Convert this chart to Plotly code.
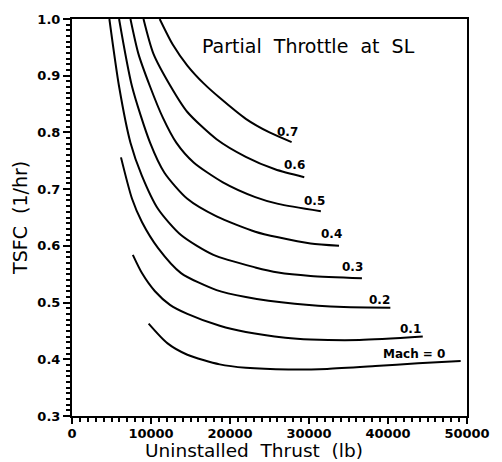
import plotly.graph_objects as go

# Uninstalled thrust (lb) and TSFC (1/hr) for each flight Mach number
mach_labels = ["Mach = 0", "0.1", "0.2", "0.3", "0.4", "0.5", "0.6", "0.7"]

thrust_m00 = [9700, 12100, 14600, 18700, 22000, 27400, 32300, 38400, 43800, 49200]
tsfc_m00 = [0.463, 0.428, 0.408, 0.391, 0.385, 0.382, 0.383, 0.388, 0.393, 0.397]

thrust_m01 = [7700, 8850, 10500, 12400, 14600, 18700, 22000, 27000, 30200, 36400, 44400]
tsfc_m01 = [0.584, 0.552, 0.520, 0.496, 0.480, 0.459, 0.448, 0.438, 0.435, 0.434, 0.440]

thrust_m02 = [6200, 7600, 8850, 10900, 13800, 18300, 22000, 28200, 34400, 40300]
tsfc_m02 = [0.756, 0.683, 0.642, 0.596, 0.552, 0.522, 0.510, 0.498, 0.492, 0.491]

thrust_m03 = [4730, 5960, 7400, 8840, 10900, 13800, 17900, 23200, 26100, 30200, 36700]
tsfc_m03 = [1.0, 0.881, 0.782, 0.724, 0.665, 0.619, 0.584, 0.562, 0.553, 0.547, 0.543]

thrust_m04 = [5960, 7600, 9880, 11700, 14600, 18300, 23200, 26100, 30200, 33800]
tsfc_m04 = [1.0, 0.881, 0.782, 0.729, 0.683, 0.652, 0.625, 0.615, 0.604, 0.600]

thrust_m05 = [7400, 8400, 9880, 11500, 13200, 15400, 19100, 23200, 26100, 31500]
tsfc_m05 = [1.0, 0.939, 0.881, 0.826, 0.782, 0.747, 0.712, 0.686, 0.674, 0.661]

thrust_m06 = [9050, 10300, 12500, 14600, 18300, 22000, 25700, 29400]
tsfc_m06 = [1.0, 0.939, 0.881, 0.836, 0.788, 0.757, 0.735, 0.721]

thrust_m07 = [11100, 12750, 14600, 16700, 18700, 22000, 25000, 27800]
tsfc_m07 = [1.0, 0.955, 0.918, 0.886, 0.861, 0.824, 0.800, 0.783]

# Label anchor positions (data coords)
label_x = [43250, 42900, 38900, 35500, 32900, 30650, 28200, 27300]
label_y = [0.410, 0.454, 0.504, 0.562, 0.621, 0.679, 0.743, 0.801]

x_ticks = [0, 10000, 20000, 30000, 40000, 50000]
y_ticks = [0.3, 0.4, 0.5, 0.6, 0.7, 0.8, 0.9, 1.0]

series = [
    (thrust_m00, tsfc_m00), (thrust_m01, tsfc_m01), (thrust_m02, tsfc_m02),
    (thrust_m03, tsfc_m03), (thrust_m04, tsfc_m04), (thrust_m05, tsfc_m05),
    (thrust_m06, tsfc_m06), (thrust_m07, tsfc_m07),
]

fig = go.Figure()
for (xs, ys), name in zip(series, mach_labels):
    fig.add_trace(go.Scatter(
        x=xs, y=ys, mode="lines", name=name,
        line=dict(color="black", width=2, shape="spline", smoothing=0.7),
        showlegend=False, hoverinfo="skip",
    ))

for lx, ly, txt in zip(label_x, label_y, mach_labels):
    fig.add_annotation(
        x=lx, y=ly, text=txt, showarrow=False, xanchor="center", yanchor="middle",
        font=dict(family="DejaVu Sans", size=12, color="black", weight="bold"),
    )

fig.add_annotation(
    xref="paper", yref="paper", x=0.598, y=0.933, text="Partial  Throttle  at  SL",
    showarrow=False, xanchor="center", yanchor="middle",
    font=dict(family="DejaVu Sans", size=19, color="black"),
)
fig.add_annotation(
    xref="paper", yref="paper", x=0.462, y=-0.087, text="Uninstalled  Thrust  (lb)",
    showarrow=False, xanchor="center", yanchor="middle",
    font=dict(family="DejaVu Sans", size=18.5, color="black"),
)
fig.add_annotation(
    xref="paper", yref="paper", x=-0.133, y=0.5, text="TSFC  (1/hr)", textangle=-90,
    showarrow=False, xanchor="center", yanchor="middle",
    font=dict(family="DejaVu Sans", size=19, color="black"),
)

tickfont = dict(family="DejaVu Sans", size=13, color="black", weight="bold")
fig.update_xaxes(
    range=[0, 50000], tickvals=x_ticks, ticktext=[str(v) for v in x_ticks],
    ticks="outside", ticklen=6, tickwidth=2, tickcolor="black",
    minor=dict(dtick=1000, ticks="outside", ticklen=4, tickwidth=1.5, tickcolor="black"),
    showline=True, linecolor="black", linewidth=2, mirror=True,
    showgrid=False, zeroline=False, tickfont=tickfont, ticklabelstandoff=-2,
)
fig.update_yaxes(
    range=[0.3, 1.0], tickvals=y_ticks, ticktext=[f"{v:.1f}" for v in y_ticks],
    ticks="outside", ticklen=7, tickwidth=2, tickcolor="black",
    minor=dict(dtick=0.01, ticks="outside", ticklen=4, tickwidth=1.5, tickcolor="black"),
    showline=True, linecolor="black", linewidth=2, mirror=True,
    showgrid=False, zeroline=False, tickfont=tickfont,
)
fig.update_layout(
    width=502, height=462,
    margin=dict(l=72, r=25, t=15, b=46),
    plot_bgcolor="white", paper_bgcolor="white",
)
# remove the default 8px body margin so the figure sits at the window's top-left
fig.write_html(
    "out.html",
    config={"displayModeBar": False},
    post_script="document.body.style.margin='0px';",
)
